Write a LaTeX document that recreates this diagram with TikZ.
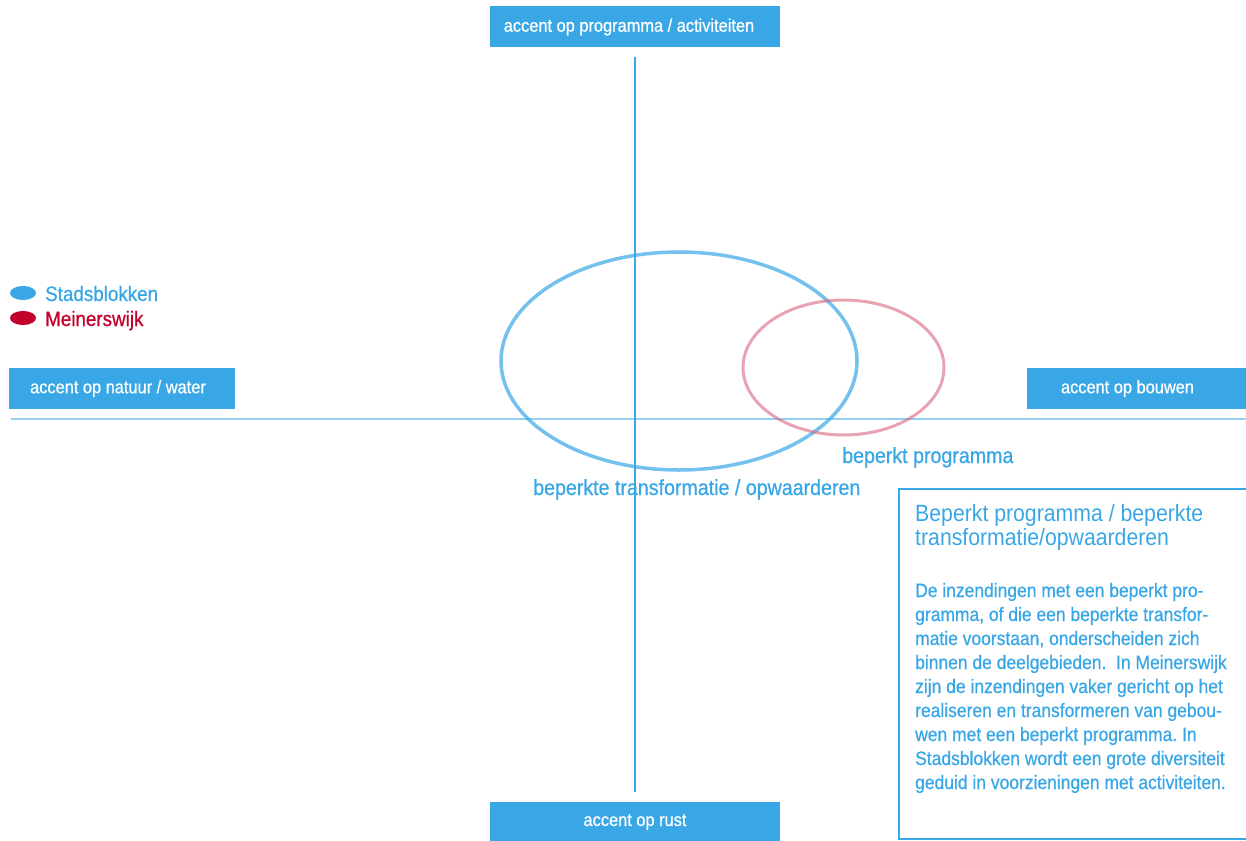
\documentclass[tikz,border=0pt]{standalone}
\usepackage{fontspec}
\setmainfont[FakeStretch=0.9]{Liberation Sans}
\newfontfamily\medfont[FakeStretch=0.9,FakeBold=0.7]{Liberation Sans}
\usepackage{xcolor}
\usetikzlibrary{positioning,shapes.geometric}
\definecolor{accent}{HTML}{39A7E6}
\definecolor{meinred}{HTML}{C3002B}
\definecolor{ringpink}{HTML}{D9667F}
\frenchspacing

\begin{document}
\begin{tikzpicture}[
  x=1pt, y=-1pt,
  axisbox/.style={fill=accent, text=white, minimum height=41pt, inner sep=0pt, font=\medfont\fontsize{18.2}{22}\selectfont},
  ring/.style={ellipse, draw, line width=3.5pt, inner sep=0pt},
  dot/.style={ellipse, minimum width=26pt, minimum height=14pt, inner sep=0pt},
  lbl/.style={anchor=base west, inner sep=0pt, text=accent, font=\medfont\fontsize{21.8}{24}\selectfont},
]
  \useasboundingbox (0,0) rectangle (1246,840);

  \node[axisbox, minimum width=290pt] (prog) at (635,27) {accent op programma / activiteiten\hspace*{12pt}};
  \node[axisbox, minimum width=290pt] (rust) at (635,822) {accent op rust};
  \node[axisbox, minimum width=226pt] (natuur) at (122,388.5) {accent op natuur / water\hspace*{8pt}};
  \node[axisbox, minimum width=219pt] (bouwen) at (1136.5,388.5) {accent op bouwen\hspace*{18pt}};

  \coordinate (west) at (11,419);
  \coordinate (east) at (1246,419);
  \draw[accent!55, line width=2pt] (west) -- (east);
  \draw[accent, line width=1.1pt] ([yshift=-9pt]prog.south) -- ([yshift=9pt]rust.north);

  \node[ring, draw=accent, draw opacity=.7, minimum width=356pt, minimum height=218pt] (stads) at (679,361) {};
  \node[ring, draw=ringpink, draw opacity=.6, line width=3pt, minimum width=201pt, minimum height=135pt] (meiner) at (843.5,367.5) {};

  \node[lbl] (progtxt) at (842,463) {beperkt programma};
  \node[lbl] (transtxt) at (533,495) {beperkte transformatie / opwaarderen};

  \node[dot, fill=accent] (dotstads) at (23,293) {};
  \node[dot, fill=meinred] (dotmeiner) at (23,318) {};
  \node[lbl, font=\medfont\fontsize{20.9}{24}\selectfont] (stadstxt) at (45,301) {Stadsblokken};
  \node[lbl, text=meinred, font=\medfont\fontsize{20.9}{24}\selectfont] (meinertxt) at (45,326) {Meinerswijk};

  \node[draw=accent, line width=2pt, minimum width=352pt, minimum height=350pt, anchor=north west, inner sep=0pt] (infobox) at (898,488) {};
  \node[lbl, align=left, font=\fontsize{23.6}{23.3}\selectfont] (infotitle) at (915,545)
    {Beperkt programma / beperkte\\transformatie/opwaarderen};
  \node[lbl, align=left, font=\medfont\fontsize{19.4}{24}\selectfont] (infotext) at (915,789)
    {De inzendingen met een beperkt pro-\\
     gramma, of die een beperkte transfor-\\
     matie voorstaan, onderscheiden zich\\
     binnen de deelgebieden.\ \ In Meinerswijk\\
     zijn de inzendingen vaker gericht op het\\
     realiseren en transformeren van gebou-\\
     wen met een beperkt programma. In\\
     Stadsblokken wordt een grote diversiteit\\
     geduid in voorzieningen met activiteiten.};
\end{tikzpicture}
\end{document}
